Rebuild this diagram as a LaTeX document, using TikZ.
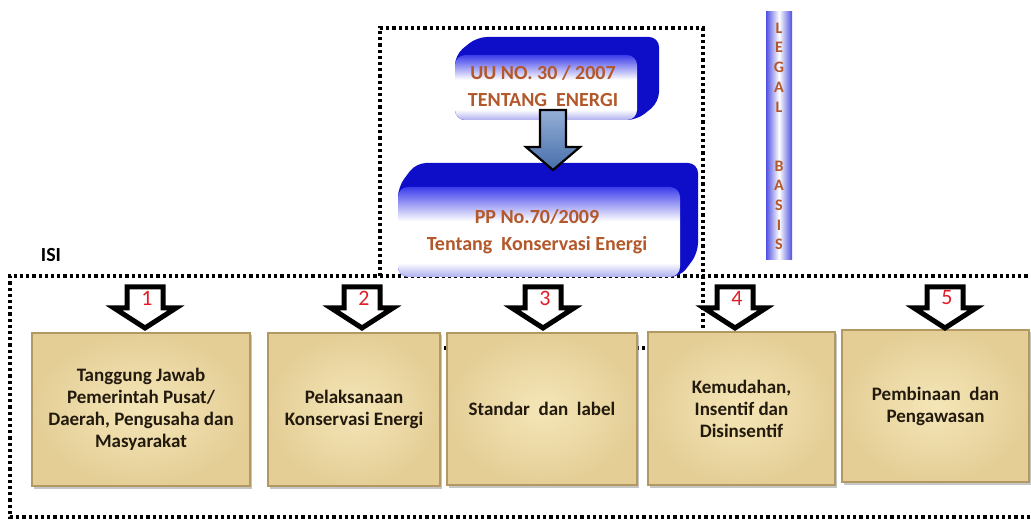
\documentclass[tikz,border=0pt]{standalone}
\usepackage{fontspec}
\setmainfont{Carlito}
\usetikzlibrary{shadows}
\definecolor{bluedark}{RGB}{14,14,200}
\definecolor{bluemid}{RGB}{60,60,235}
\definecolor{lav}{RGB}{175,175,240}
\definecolor{tanin}{RGB}{245,230,184}
\definecolor{tanout}{RGB}{228,206,150}
\definecolor{tanedge}{RGB}{178,152,98}
\definecolor{txtbrown}{RGB}{178,88,42}
\definecolor{boxtext}{RGB}{35,26,14}
\definecolor{numred}{RGB}{225,30,40}
\definecolor{steel}{RGB}{78,122,188}
\definecolor{legalblue}{RGB}{80,80,225}
\pgfdeclareverticalshading{frontblue}{100bp}{color(0bp)=(lav); color(25bp)=(lav); color(33bp)=(white); color(56bp)=(white); color(75bp)=(bluemid); color(100bp)=(bluemid)}
\begin{document}
\begin{tikzpicture}[x=1pt,y=-1pt,
  dotline/.style={line width=3.2pt, dash pattern=on 3.2pt off 3pt},
  backface/.style={fill=bluedark, rounded corners=10pt},
  frontface/.style={rectangle, rounded corners=10pt, shading=frontblue, inner sep=0pt},
  bluetext/.style={text=txtbrown, font=\fontsize{20}{27}\selectfont\bfseries, align=center},
  tanbox/.style={rectangle, draw=tanedge, line width=2.5pt, inner color=tanin, outer color=tanout,
    drop shadow={opacity=0.45, shadow xshift=2pt, shadow yshift=-2.5pt},
    text=boxtext, font=\fontsize{19}{22}\selectfont\bfseries, align=center, inner sep=2pt},
  blockarrow/.style={draw=black, line width=5pt, fill=white, line join=miter,
    drop shadow={opacity=0.35, shadow xshift=1.5pt, shadow yshift=-1.5pt}},
  numstyle/.style={text=numred, font=\fontsize{22}{22}\selectfont, inner sep=0pt},
  steelarrow/.style={draw=black, line width=2.2pt, top color=steel!60!white, bottom color=steel!90!black, line join=miter}
]
\useasboundingbox (0,0) rectangle (1031,521);
\clip (0,0) rectangle (1031,521);

% dotted frames
\draw[dotline] (1040,276) -- (10,276) -- (10,517) -- (1040,517);
\draw[dotline] (380,276) -- (380,28) -- (703,28) -- (703,348) -- (380,348);

% ISI label
\node[font=\fontsize{20}{20}\selectfont\bfseries, inner sep=0pt] (isi) at (51,255) {ISI};

% top blue box
\fill[backface] (455,55) -- (477,37) -- (659,37) -- (659,102) -- (637,120) -- (455,120) -- cycle;
\node[frontface, minimum width=182pt, minimum height=65pt] (uu) at (546,87.5) {};
\node[bluetext] (uutext) at (543,86) {UU NO. 30 / 2007\\TENTANG~~ENERGI};

% bottom blue box
\fill[backface] (398,187) -- (416,163) -- (698,163) -- (698,253) -- (680,277) -- (398,277) -- cycle;
\node[frontface, minimum width=282pt, minimum height=90pt] (pp) at (539,232) {};
\node[bluetext] (pptext) at (537,232) {PP No.70/2009\\Tentang~ Konservasi Energi};

% blue arrow from uu to pp
\coordinate (ua) at (553,110);
\coordinate (pa) at (553,170);
\draw[steelarrow] ([xshift=-13pt]ua) -- ([xshift=13pt]ua) -- ([xshift=13pt]ua |- 0,147) -- ([xshift=27pt]ua |- 0,147)
  -- (pa) -- ([xshift=-27pt]ua |- 0,147) -- ([xshift=-13pt]ua |- 0,147) -- cycle;

% legal basis bar
\node[rectangle, minimum width=26pt, minimum height=248pt, left color=legalblue, right color=legalblue, middle color=white, inner sep=0pt] (legal) at (779,136) {};
\node[text=txtbrown, font=\fontsize{16}{19.7}\selectfont\bfseries, align=center, inner sep=0pt] (legaltext) at (779,136.5)
  {L\\E\\G\\A\\L\\~\\~\\B\\A\\S\\I\\S};

% tan boxes
\node[tanbox, minimum width=218pt, minimum height=153pt] (b1) at (141,409.5) {Tanggung Jawab\\Pemerintah Pusat/\\Daerah, Pengusaha dan\\Masyarakat};
\node[tanbox, minimum width=172pt, minimum height=153pt] (b2) at (354,409.5) {Pelaksanaan\\Konservasi Energi};
\node[tanbox, minimum width=190pt, minimum height=152pt] (b3) at (542,409) {Standar~ dan~ label};
\node[tanbox, minimum width=187pt, minimum height=153pt] (b4) at (741.5,408.5) {Kemudahan,\\Insentif dan\\Disinsentif};
\node[tanbox, minimum width=187pt, minimum height=152pt] (b5) at (935.5,406) {Pembinaan~ dan\\Pengawasan};

% block arrows with numbers
\foreach \cx/\n in {145/1,362/2,543/3,735/4,945/5}{
  \draw[blockarrow] (\cx-18,287) -- (\cx+18,287) -- (\cx+18,308) -- (\cx+31,308) -- (\cx,328)
    -- (\cx-31,308) -- (\cx-18,308) -- cycle;
  \node[numstyle] (num\n) at (\cx+2,298) {\n};
}
\end{tikzpicture}
\end{document}
